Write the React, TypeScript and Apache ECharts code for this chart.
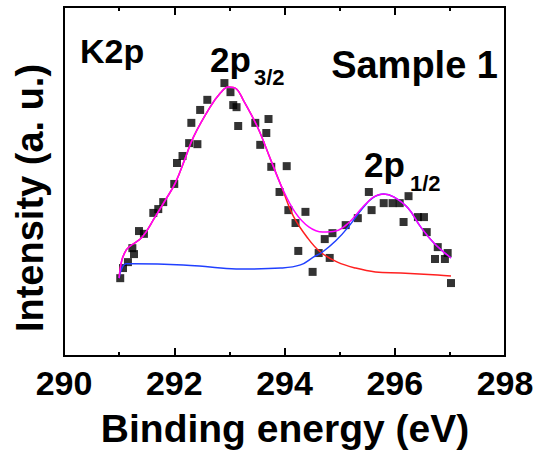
import React, { useEffect, useRef } from "react";
import * as echarts from "echarts";

// Measured points (binding energy in eV, intensity in arbitrary units 0-100)
const pointEnergy = [
  291.02, 291.07, 291.16, 291.24, 291.27, 291.36, 291.45, 291.62, 291.71, 291.8,
  292.0, 292.05, 292.15, 292.27, 292.42, 292.31, 292.47, 292.6, 292.91, 293.02,
  293.07, 293.13, 293.16, 293.47, 293.71, 293.67, 293.56, 293.76, 294.04, 293.91,
  294.07, 294.38, 294.2, 294.25, 294.51, 294.62, 294.82, 294.73, 294.87, 295.11,
  295.33, 295.53, 295.58, 295.8, 295.96, 296.09, 296.25, 296.16, 296.42, 296.53,
  296.58, 296.78, 296.73, 296.91, 296.96, 297.02,
];
const pointIntensity = [
  22.3, 25.2, 26.9, 30.9, 29.2, 35.8, 35.0, 41.0, 42.1, 44.1,
  49.3, 55.3, 57.3, 61.0, 60.7, 66.8, 70.5, 73.4, 78.2, 75.6,
  71.9, 71.3, 65.9, 66.8, 67.9, 63.9, 60.5, 54.2, 54.4, 47.0,
  41.8, 41.3, 38.1, 30.1, 24.1, 29.5, 28.1, 33.5, 35.2, 37.5,
  39.5, 47.0, 41.8, 43.8, 43.8, 43.8, 45.8, 38.4, 39.8, 39.8,
  35.5, 31.2, 27.8, 27.8, 29.5, 20.9,
];

// 2p3/2 component + background (red)
const redEnergy = [
  291.0, 291.05, 291.13, 291.2, 291.42, 291.65, 291.84, 292.02, 292.2, 292.35,
  292.65, 292.84, 292.98, 293.13, 293.25, 293.51, 293.75, 293.96, 294.16, 294.42,
  294.65, 294.96, 295.29, 295.65, 296.11, 296.78, 297.02,
];
const redIntensity = [
  22.3, 27.5, 30.4, 31.5, 34.1, 39.8, 44.7, 49.6, 56.7, 62.8,
  71.3, 75.4, 77.1, 76.5, 73.4, 65.6, 56.2, 47.9, 40.1, 33.8,
  29.8, 26.9, 25.2, 24.1, 23.8, 23.2, 22.9,
];

// 2p1/2 component + background (blue)
const blueEnergy = [
  291.0, 291.05, 291.13, 291.25, 292.16, 292.65, 293.2, 293.93, 294.29, 294.53,
  294.69, 294.93, 295.16, 295.42, 295.6, 295.8, 295.98, 296.24, 296.47, 296.71,
  297.02,
];
const blueIntensity = [
  22.3, 25.2, 26.4, 26.4, 26.1, 25.5, 24.9, 25.2, 26.1, 28.4,
  29.8, 33.0, 37.0, 42.4, 45.3, 46.4, 45.6, 42.4, 37.0, 32.4,
  28.1,
];

// Envelope (magenta)
const sumEnergy = [
  291.0, 291.05, 291.13, 291.2, 291.42, 291.65, 291.84, 292.02, 292.2, 292.35,
  292.65, 292.84, 292.98, 293.13, 293.25, 293.51, 293.75, 293.96, 294.2, 294.44,
  294.69, 294.93, 295.16, 295.42, 295.62, 295.8, 295.98, 296.24, 296.47, 296.71,
  297.02,
];
const sumIntensity = [
  22.3, 27.5, 30.4, 31.5, 34.1, 39.8, 44.7, 49.6, 56.7, 62.8,
  71.3, 75.4, 77.1, 76.5, 73.4, 65.6, 56.2, 48.1, 41.0, 37.0,
  35.5, 35.8, 38.1, 42.7, 45.6, 46.4, 45.6, 42.4, 37.0, 32.4,
  28.1,
];

const xMin = 290;
const xMax = 298;
const xStep = 2;

const FONT = '"Liberation Sans", Arial, sans-serif';

const pairs = (xs: number[], ys: number[]) => xs.map((x, i) => [x, ys[i]]);

export default function App() {
  const ref = useRef<HTMLDivElement>(null);

  useEffect(() => {
    if (!ref.current) return;
    const chart = echarts.init(ref.current, undefined, { renderer: "svg" });

    const txt = (
      text: string,
      x: number,
      y: number,
      size: number,
      align: string = "left",
      rotation = 0
    ) => ({
      type: "text",
      x,
      y,
      rotation,
      z: 100,
      style: {
        text,
        font: `bold ${size}px ${FONT}`,
        fill: "#000",
        align,
        verticalAlign: "middle",
        textAlign: align,
        textVerticalAlign: "middle",
      },
    });

    const axisCommon = {
      type: "value",
      min: xMin,
      max: xMax,
      interval: xStep,
      axisLine: { show: false },
      splitLine: { show: false },
      axisTick: { show: true, inside: true, length: 8, lineStyle: { color: "#000", width: 2 } },
      minorTick: { show: true, splitNumber: 2, length: 4, lineStyle: { color: "#000", width: 2 } },
      minorSplitLine: { show: false },
    };

    chart.setOption({
      animation: false,
      backgroundColor: "#fff",
      grid: {
        left: 64,
        right: 34,
        top: 7,
        bottom: 95,
        show: true,
        borderColor: "#000",
        borderWidth: 2,
        backgroundColor: "transparent",
      },
      xAxis: [
        {
          ...axisCommon,
          position: "bottom",
          axisLabel: {
            show: true,
            margin: 10,
            color: "#000",
            fontSize: 34,
            fontWeight: "bold",
            fontFamily: FONT,
          },
        },
        {
          ...axisCommon,
          position: "top",
          axisLabel: { show: false },
        },
      ],
      yAxis: {
        type: "value",
        min: 0,
        max: 100,
        axisLine: { show: false },
        axisTick: { show: false },
        axisLabel: { show: false },
        splitLine: { show: false },
      },
      graphic: [
        txt("K2p", 80, 51, 34),
        txt("Sample 1", 498, 65, 38, "right"),
        txt("2p", 210, 59, 35),
        txt("3/2", 254, 77, 22),
        txt("2p", 364, 164, 35),
        txt("1/2", 410, 183, 22),
        txt("Binding energy (eV)", 285, 428, 39, "center"),
        txt("Intensity (a. u.)", 30, 198, 38, "center", Math.PI / 2),
      ],
      series: [
        {
          type: "scatter",
          data: pairs(pointEnergy, pointIntensity),
          symbol: "rect",
          symbolSize: 8,
          itemStyle: { color: "#000" },
          z: 2,
        },
        {
          type: "line",
          data: pairs(redEnergy, redIntensity),
          showSymbol: false,
          smooth: 0.4,
          lineStyle: { color: "#ff2020", width: 1.5 },
          z: 3,
        },
        {
          type: "line",
          data: pairs(blueEnergy, blueIntensity),
          showSymbol: false,
          smooth: 0.4,
          lineStyle: { color: "#2040ff", width: 1.5 },
          z: 4,
        },
        {
          type: "line",
          data: pairs(sumEnergy, sumIntensity),
          showSymbol: false,
          smooth: 0.4,
          lineStyle: { color: "#ff00ff", width: 1.5 },
          z: 5,
        },
      ],
    });

    return () => chart.dispose();
  }, []);

  return (
    <div
      ref={ref}
      style={{ position: "fixed", left: 0, top: 0, width: 539, height: 451, background: "#fff" }}
    />
  );
}
